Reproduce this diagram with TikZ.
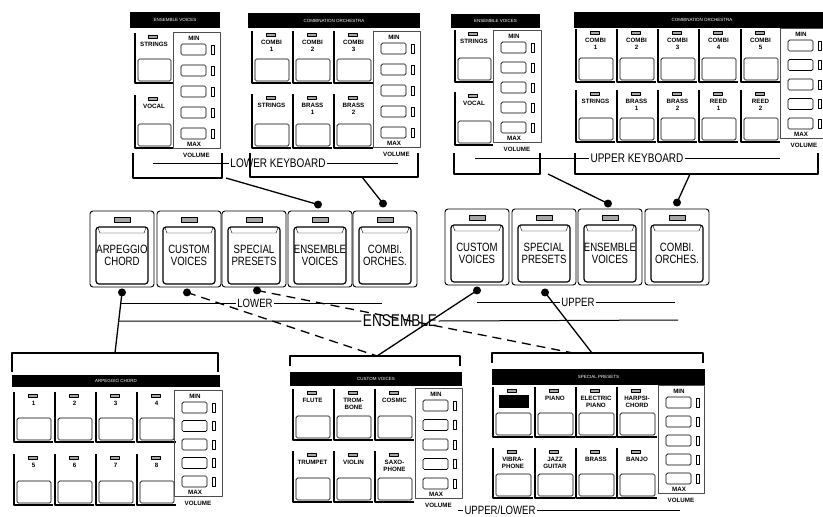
\documentclass[tikz,border=0pt]{standalone}
\usepackage{fontspec}
\setsansfont{Liberation Sans}
\newfontfamily\condfont[FakeStretch=0.8]{Liberation Sans}
\usetikzlibrary{positioning}
\definecolor{ledgray}{gray}{0.65}
\tikzset{
	panelstyle/.style={
		x=1pt,
		y=-1pt,
		line join=round,
		font=\sffamily}}

% small key: name, x, y, width, height, label
\newcommand{\tabcell}[6]{%
	\draw[tabline] (#2+2,#3) -- (#2+2,#3+#5) -- (#2+#4,#3+#5);
	\draw[led] ({#2+#4/2-4.5},#3+2) rectangle ({#2+#4/2+4.5},#3+5);
	\node[keytxt, anchor=north] (#1) at ({#2+#4/2+1},#3+9) {#6};
	\draw[btn] (#2+5,#3+#5-24) rectangle (#2+#4-2,#3+#5-2);
}
% volume column: name, x, y, width, height
\newcommand{\volcol}[5]{%
	\draw[volframe] (#2,#3) rectangle (#2+#4,#3+#5);
	\node[keytxt] (#1-min) at (#2+21,#3+6) {MIN};
	\foreach \k in {0,...,4}{
		\draw[btn] (#2+8,{#3+12+\k*(#5-32)/4}) rectangle (#2+33,{#3+23+\k*(#5-32)/4});
		\draw[ledbar] (#2+38,{#3+13+\k*(#5-32)/4}) rectangle (#2+41,{#3+22+\k*(#5-32)/4});
	}
	\node[keytxt] (#1-max) at (#2+21,#3+#5-4) {MAX};
	\node[keytxt] (#1) at ({#2+#4/2},#3+#5+7) {VOLUME};
}
% big selector key: name, x, y, label
\newcommand{\bigkey}[4]{%
	\node[bigkey] (#1) at (#2+32,#3+38) {};
	\draw[led] (#2+24,#3+6) rectangle (#2+40,#3+11);
	\draw[pocket] (#2+6,#3+16) rectangle (#2+58,#3+73);
	\draw (#2+8,#3+17) -- (#2+10,#3+22) -- (#2+54,#3+22) -- (#2+56,#3+17);
	\node[bigcap] (#1-txt) at (#2+32,#3+44) {#4};
}
% black title strip: name, x1, y1, x2, y2, text
\newcommand{\header}[6]{%
	\fill (#2,#3) rectangle (#4,#5);
	\node[headtxt] (#1) at ({(#2+#4)/2},{(#3+#5)/2}) {#6};
}

\begin{document}
\begin{tikzpicture}[panelstyle,
	tabline/.style={line width=1.8pt},
	led/.style={line width=0.5pt, fill=ledgray},
	btn/.style={line width=0.7pt, rounded corners=1.5pt},
	ledbar/.style={line width=0.6pt},
	volframe/.style={line width=0.4pt, draw=black!70},
	keytxt/.style={font=\sffamily\bfseries\fontsize{6.2}{6.6}\selectfont, align=center, inner sep=0pt},
	headtxt/.style={text=white, font=\sffamily\fontsize{4.5}{5}\selectfont, inner sep=0pt},
	bigkey/.style={draw, line width=0.9pt, rounded corners=3pt, minimum width=64pt, minimum height=76pt, inner sep=0pt},
	pocket/.style={line width=1.2pt, rounded corners=3pt},
	bigcap/.style={font=\condfont\fontsize{12}{12}\selectfont, align=center, inner sep=0pt},
	dot/.style={circle, fill, inner sep=0pt, minimum size=8pt},
	wire/.style={line width=1.3pt},
	bracket/.style={line width=1.5pt},
	grouplbl/.style={font=\condfont\fontsize{12}{12}\selectfont, inner sep=1.5pt},
	]
	\clip (0,0) rectangle (823,517);
	
	% lower keyboard panels
	\header{hdLE}{130}{12}{220}{28}{ENSEMBLE VOICES}
	\tabcell{leStr}{133}{33}{40}{50}{STRINGS}
	\tabcell{leVoc}{133}{95}{40}{53}{VOCAL}
	\volcol{leVol}{173}{32}{47}{116}
	
	\header{hdLC}{248}{13}{420}{28}{COMBINATION ORCHESTRA}
	\foreach \x/\lab [count=\i] in {250/{COMBI\\1}, 291/{COMBI\\2}, 332/{COMBI\\3}}
		{\tabcell{lcA\i}{\x}{31}{41}{52}{\lab}}
	\foreach \x/\lab [count=\i] in {250/STRINGS, 291/{BRASS\\1}, 332/{BRASS\\2}}
		{\tabcell{lcB\i}{\x}{94}{41}{54}{\lab}}
	\volcol{lcVol}{373}{31}{47}{116}
	
	% upper keyboard panels
	\header{hdUE}{451}{14}{540}{28}{ENSEMBLE VOICES}
	\tabcell{ueStr}{453}{30}{40}{52}{STRINGS}
	\tabcell{ueVoc}{453}{92}{40}{53}{VOCAL}
	\volcol{ueVol}{493}{30}{48}{112}
	
	\header{hdUC}{574}{12}{830}{28}{COMBINATION ORCHESTRA}
	\foreach \x/\lab [count=\i] in {574/{COMBI\\1}, 615/{COMBI\\2}, 656/{COMBI\\3}, 697/{COMBI\\4}, 739/{COMBI\\5}}
		{\tabcell{ucA\i}{\x}{29}{41}{53}{\lab}}
	\foreach \x/\lab [count=\i] in {574/STRINGS, 615/{BRASS\\1}, 656/{BRASS\\2}, 697/{REED\\1}, 739/{REED\\2}}
		{\tabcell{ucB\i}{\x}{90}{41}{52}{\lab}}
	\volcol{ucVol}{780}{28}{48}{110}
	
	% keyboard brackets
	\draw[bracket] (133,153) |- (222,178) -- (222,153);
	\draw[bracket] (250,153) |- (418,177) -- (418,153);
	\draw[bracket] (454,153) |- (540,174) -- (540,153);
	\draw[bracket] (575,153) |- (818,174) -- (818,153);
	
	\node[grouplbl, font=\condfont\fontsize{12.5}{13}\selectfont] (lkbLbl) at (278,163) {LOWER KEYBOARD};
	\coordinate (lkbA) at (153,163);
	\coordinate (lkbB) at (398,163);
	\draw[wire, line width=1pt] (lkbA) -- (lkbLbl.west) (lkbLbl.east) -- (lkbB);
	
	\node[grouplbl, font=\condfont\fontsize{12.5}{13}\selectfont] (ukbLbl) at (637,158) {UPPER KEYBOARD};
	\coordinate (ukbA) at (475,158);
	\coordinate (ukbB) at (780,158);
	\draw[wire, line width=1pt] (ukbA) -- (ukbLbl.west) (ukbLbl.east) -- (ukbB);
	
	% selector keys
	\bigkey{larp}{90}{211}{ARPEGGIO\\CHORD}
	\bigkey{lcus}{157}{211}{CUSTOM\\VOICES}
	\bigkey{lspe}{222}{211}{SPECIAL\\PRESETS}
	\bigkey{lens}{288}{211}{ENSEMBLE\\VOICES}
	\bigkey{lcom}{353}{211}{COMBI.\\ORCHES.}
	
	\bigkey{ucus}{445}{209}{CUSTOM\\VOICES}
	\bigkey{uspe}{512}{209}{SPECIAL\\PRESETS}
	\bigkey{uens}{578}{209}{ENSEMBLE\\VOICES}
	\bigkey{ucom}{645}{209}{COMBI.\\ORCHES.}
	
	\node[dot] (lensD) at ([xshift=-2pt, yshift=6pt]lens.north) {};
	\node[dot] (lcomD) at ([xshift=-2pt, yshift=7pt]lcom.north) {};
	\node[dot] (uensD) at ([xshift=-2pt, yshift=5pt]uens.north) {};
	\node[dot] (ucomD) at ([yshift=6pt]ucom.north) {};
	\node[dot] (larpD) at ([yshift=-5pt]larp.south) {};
	\node[dot] (lcusD) at ([xshift=-2pt, yshift=-5pt]lcus.south) {};
	\node[dot] (lspeD) at ([xshift=3pt, yshift=-3pt]lspe.south) {};
	\node[dot] (ucusD) at ([yshift=-5pt]ucus.south) {};
	\node[dot] (uspeD) at ([xshift=1pt, yshift=-7pt]uspe.south) {};
	
	\coordinate (lkbL) at (226,178);
	\coordinate (lkbR) at (362,177);
	\coordinate (ukbL) at (548,174);
	\coordinate (ukbR) at (690,174);
	\draw[wire] (lkbL) -- (lensD.center);
	\draw[wire] (lkbR) -- (lcomD.center);
	\draw[wire] (ukbL) -- (uensD.center);
	\draw[wire] (ukbR) -- (ucomD.center);
	
	% group lines
	\node[grouplbl] (lowLbl) at (255,303) {LOWER};
	\coordinate (lowA) at (120,303);
	\coordinate (lowB) at (382,303);
	\draw[wire, line width=1pt] (lowA) -- (lowLbl.west) (lowLbl.east) -- (lowB);
	
	\node[grouplbl] (upLbl) at (578,302) {UPPER};
	\coordinate (upA) at (477,302);
	\coordinate (upB) at (675,302);
	\draw[wire, line width=1pt] (upA) -- (upLbl.west) (upLbl.east) -- (upB);
	
	\node[grouplbl, font=\condfont\fontsize{17}{17}\selectfont] (ensLbl) at (400,321) {ENSEMBLE};
	\coordinate (ensA) at (119,321);
	\coordinate (ensB) at (678,320);
	\draw[wire, line width=1pt] (ensA) -- (ensLbl.west) (ensLbl.east) -- (ensB);
	
	\node[grouplbl, font=\condfont\fontsize{12}{12}\selectfont] (ulLbl) at (500,510) {UPPER/LOWER};
	\coordinate (ulA) at (458,510);
	\coordinate (ulB) at (680,510);
	\draw[wire, line width=1pt] (ulA) -- (ulLbl.west) (ulLbl.east) -- (ulB);
	
	% connections to the voice panels
	\coordinate (arpT) at (115,353);
	\coordinate (cusT) at (377,356);
	\coordinate (speT) at (573,353);
	\coordinate (speT2) at (592,353);
	\draw[wire] (larpD.center) -- (arpT);
	\draw[wire, dash pattern=on 9pt off 6pt] (lcusD.center) -- (cusT);
	\draw[wire] (ucusD.center) -- (cusT);
	\draw[wire, dash pattern=on 9pt off 6pt] (lspeD.center) -- (speT);
	\draw[wire] (uspeD.center) -- (speT2);
	
	% arpeggio chord panel
	\draw[bracket] (12,372) |- (218,353) -- (218,372);
	\header{hdAC}{12}{375}{220}{387}{ARPEGGIO CHORD}
	\foreach \x [count=\i] in {12,53,94,135}
		{\tabcell{acA\i}{\x}{392}{41}{50}{\i}}
	\foreach \x [count=\i from 5] in {12,53,94,135}
		{\tabcell{acB\i}{\x}{454}{41}{51}{\i}}
	\volcol{acVol}{174}{390}{48}{106}
	
	% custom voices panel
	\draw[bracket] (290,366) |- (460,356) -- (460,366);
	\header{hdCV}{290}{372}{462}{386}{CUSTOM VOICES}
	\foreach \x/\lab [count=\i] in {291/FLUTE, 332/{TROM-\\BONE}, 373/COSMIC}
		{\tabcell{cvA\i}{\x}{389}{41}{51}{\lab}}
	\foreach \x/\lab [count=\i] in {291/TRUMPET, 332/VIOLIN, 373/{SAXO-\\PHONE}}
		{\tabcell{cvB\i}{\x}{451}{41}{51}{\lab}}
	\volcol{cvVol}{415}{388}{47}{110}
	
	% special presets panel
	\draw[bracket] (492,363) |- (703,353) -- (703,363);
	\header{hdSP}{492}{369}{705}{385}{SPECIAL PRESETS}
	\foreach \x/\lab [count=\i] in {491/{}, 533/PIANO, 574/{ELECTRIC\\PIANO}, 615/{HARPSI-\\CHORD}}
		{\tabcell{spA\i}{\x}{387}{42}{50}{\lab}}
	\node[fill, minimum width=30pt, minimum height=13pt, inner sep=0pt] (spHi) at (514,401) {};
	\foreach \x/\lab [count=\i] in {491/{VIBRA-\\PHONE}, 533/{JAZZ\\GUITAR}, 574/BRASS, 615/BANJO}
		{\tabcell{spB\i}{\x}{448}{42}{50}{\lab}}
	\volcol{spVol}{658}{385}{46}{108}
	
\end{tikzpicture}
\end{document}
